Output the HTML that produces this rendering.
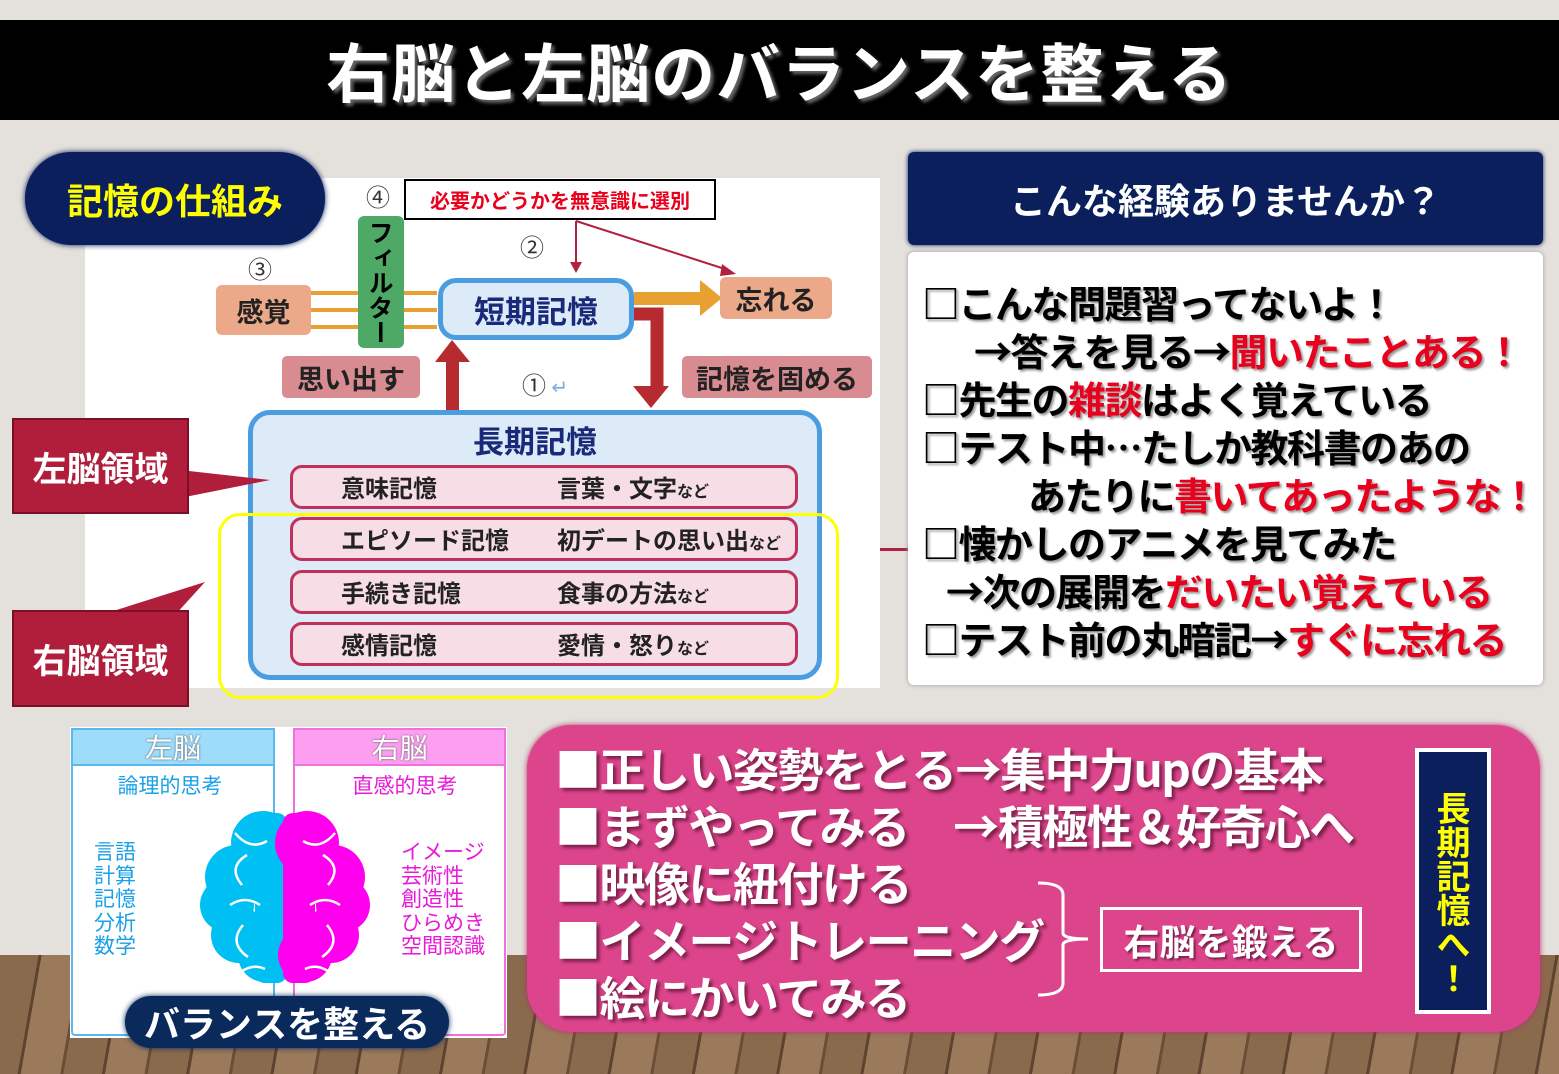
<!DOCTYPE html>
<html><head><meta charset="utf-8"><style>
*{margin:0;padding:0;box-sizing:border-box}
body{width:1559px;height:1074px;position:relative;overflow:hidden;background:#e4e1dc;font-family:"Noto Sans CJK JP","Liberation Sans",sans-serif;font-weight:bold}
.a{position:absolute}
.floor{left:0;top:955px;width:1559px;height:119px;background:repeating-linear-gradient(100deg,#8a6a4c 0 38px,#5e4330 38px 41px,#9a7a5a 41px 80px,#6b4e36 80px 83px)}
.title{left:0;top:20px;width:1559px;height:100px;background:#000;color:#fff;font-size:64px;text-align:center;line-height:100px;text-shadow:3px 3px 3px #666;letter-spacing:1px}
.c{display:flex;align-items:center;justify-content:center;white-space:nowrap}
.row{position:absolute;left:290px;width:508px;height:44px;background:#f6dde6;border:3px solid #c0305a;border-radius:12px;font-size:24px;color:#222}
.row span{position:absolute;top:3px;line-height:32px}
.rt{font-size:38px;line-height:48px;color:#000;text-shadow:2px 2px 2px #999;white-space:nowrap;letter-spacing:-1.5px}
.r{color:#e8001c}
.pk{font-size:46px;color:#fff;text-shadow:3px 3px 3px #7a2048;white-space:nowrap;line-height:57px;letter-spacing:-1.5px}
</style></head><body>
<div class="a floor"></div>
<div class="a title">右脳と左脳のバランスを整える</div>

<div class="a" style="left:85px;top:178px;width:795px;height:510px;background:#fff"></div>
<div class="a c" style="left:25px;top:152px;width:300px;height:93px;background:#0a1f5c;border-radius:46px;color:#ffff00;font-size:36px;box-shadow:0 0 6px #0a1f5c">記憶の仕組み</div>

<div class="a" style="left:366px;top:180px;font-size:24px;font-weight:normal;color:#333;line-height:32px">④</div>
<div class="a" style="left:520px;top:230px;font-size:24px;font-weight:normal;color:#333;line-height:32px">②</div>
<div class="a" style="left:248px;top:252px;font-size:24px;font-weight:normal;color:#333;line-height:32px">③</div>
<div class="a" style="left:522px;top:368px;font-size:24px;font-weight:normal;color:#333;line-height:32px">① <span style="color:#7aaee0;font-size:20px">↵</span></div>
<div class="a c" style="left:404px;top:179px;width:312px;height:41px;border:2px solid #000;background:#fff;color:#e8001c;font-size:20px">必要かどうかを無意識に選別</div>

<div class="a c" style="left:216px;top:285px;width:95px;height:50px;background:#eba98a;border-radius:6px;font-size:27px;color:#222">感覚</div>
<div class="a" style="left:311px;top:291px;width:126px;height:4px;background:#e8a030"></div>
<div class="a" style="left:311px;top:308px;width:126px;height:4px;background:#e8a030"></div>
<div class="a" style="left:311px;top:325px;width:126px;height:4px;background:#e8a030"></div>
<div class="a" style="left:358px;top:216px;width:46px;height:132px;background:#4ea866;border-radius:6px;color:#000;font-size:25px;writing-mode:vertical-rl;text-align:center;line-height:46px">フィルター</div>
<div class="a c" style="left:438px;top:278px;width:196px;height:62px;background:#dcebf7;border:5px solid #4a9de0;border-radius:18px;color:#1a2a7a;font-size:31px">短期記憶</div>
<div class="a" style="left:634px;top:292px;width:70px;height:13px;background:#e8a030"></div>
<div class="a" style="left:700px;top:280px;width:0;height:0;border-left:22px solid #e8a030;border-top:18px solid transparent;border-bottom:18px solid transparent"></div>
<div class="a c" style="left:720px;top:277px;width:112px;height:42px;background:#eba98a;border-radius:6px;font-size:27px;color:#222">忘れる</div>
<svg class="a" style="left:0;top:0" width="900" height="420">
<line x1="576" y1="221" x2="576" y2="264" stroke="#b02040" stroke-width="2"/><polygon points="570,262 582,262 576,273" fill="#b02040"/>
<line x1="576" y1="221" x2="728" y2="270" stroke="#b02040" stroke-width="2"/><polygon points="722,264 736,274 720,276" fill="#b02040"/>
<rect x="446" y="360" width="13" height="50" fill="#b52b30"/><polygon points="435,362 470,362 452,340" fill="#b52b30"/>
<path d="M634 314 H657 V388" stroke="#b52b30" stroke-width="13" fill="none"/><polygon points="633,386 669,386 651,408" fill="#b52b30"/>
</svg>
<div class="a c" style="left:282px;top:356px;width:138px;height:42px;background:#d88c92;border-radius:5px;font-size:27px;color:#222">思い出す</div>
<div class="a c" style="left:682px;top:356px;width:190px;height:42px;background:#d88c92;border-radius:5px;font-size:27px;color:#222">記憶を固める</div>

<div class="a" style="left:248px;top:410px;width:574px;height:270px;background:#dcebf7;border:5px solid #4a9de0;border-radius:22px"></div>
<div class="a" style="left:248px;top:418px;width:574px;text-align:center;font-size:31px;color:#1a2a7a;line-height:44px">長期記憶</div>
<div class="row" style="top:465px"><span style="left:48px">意味記憶</span><span style="left:264px">言葉・文字<small style="font-size:16px">など</small></span></div>
<div class="row" style="top:517px"><span style="left:48px">エピソード記憶</span><span style="left:264px">初デートの思い出<small style="font-size:16px">など</small></span></div>
<div class="row" style="top:570px"><span style="left:48px">手続き記憶</span><span style="left:264px">食事の方法<small style="font-size:16px">など</small></span></div>
<div class="row" style="top:622px"><span style="left:48px">感情記憶</span><span style="left:264px">愛情・怒り<small style="font-size:16px">など</small></span></div>
<div class="a" style="left:218px;top:513px;width:621px;height:186px;border:3px solid #ffff00;border-radius:22px"></div>

<svg class="a" style="left:0;top:400px" width="300" height="320">
<polygon points="180,70 270,80 180,98" fill="#b01e3c"/>
<polygon points="110,212 205,182 175,215" fill="#b01e3c"/>
</svg>
<div class="a c" style="left:12px;top:418px;width:177px;height:96px;background:#b01e3c;border:2px solid #7a1028;color:#fff;font-size:34px">左脳領域</div>
<div class="a c" style="left:12px;top:610px;width:177px;height:97px;background:#b01e3c;border:2px solid #7a1028;color:#fff;font-size:34px">右脳領域</div>
<div class="a" style="left:880px;top:548px;width:28px;height:3px;background:#b02040"></div>

<div class="a c" style="left:908px;top:152px;width:635px;height:93px;background:#0a1f5c;color:#fff;font-size:36px;box-shadow:0 0 5px #0a1f5c;border-radius:6px">こんな経験ありませんか？</div>
<div class="a" style="left:908px;top:252px;width:635px;height:433px;background:#fff;border-radius:6px;box-shadow:0 0 4px #999"></div>
<div class="a rt" style="left:922px;top:278px">□こんな問題習ってないよ！<br><span style="padding-left:52px">→答えを見る→<span class="r">聞いたことある！</span></span><br>□先生の<span class="r">雑談</span>はよく覚えている<br>□テスト中…たしか教科書のあの<br><span style="padding-left:106px">あたりに<span class="r">書いてあったような！</span></span><br>□懐かしのアニメを見てみた<br><span style="padding-left:24px">→次の展開を<span class="r">だいたい覚えている</span></span><br>□テスト前の丸暗記→<span class="r">すぐに忘れる</span></div>

<div class="a" style="left:70px;top:727px;width:437px;height:311px;background:#fff"></div>
<div class="a" style="left:71px;top:728px;width:204px;height:308px;border:2px solid #5cb8ec;border-radius:4px"></div>
<div class="a c" style="left:71px;top:728px;width:204px;height:38px;background:#9ddcfb;border:2px solid #5cb8ec;color:#fff;font-size:28px;font-weight:normal;text-shadow:0 0 2px #555">左脳</div>
<div class="a" style="left:293px;top:728px;width:213px;height:308px;border:2px solid #f070e0;border-radius:4px"></div>
<div class="a c" style="left:293px;top:728px;width:213px;height:38px;background:#fd9ff0;border:2px solid #f070e0;color:#fff;font-size:28px;font-weight:normal;text-shadow:0 0 2px #555">右脳</div>
<div class="a" style="left:70px;top:770px;width:200px;text-align:center;color:#1aa0e8;font-size:21px;font-weight:normal;line-height:30px">論理的思考</div>
<div class="a" style="left:300px;top:770px;width:210px;text-align:center;color:#e81ad8;font-size:21px;font-weight:normal;line-height:30px">直感的思考</div>
<div class="a" style="left:94px;top:840px;color:#1aa0e8;font-size:21px;line-height:23.5px;font-weight:normal">言語<br>計算<br>記憶<br>分析<br>数学</div>
<div class="a" style="left:401px;top:840px;color:#e81ad8;font-size:21px;line-height:23.5px;font-weight:normal">イメージ<br>芸術性<br>創造性<br>ひらめき<br>空間認識</div>
<svg class="a" style="left:185px;top:805px" width="200" height="185">
<g fill="#00bff2"><circle cx="78" cy="38" r="32"/><circle cx="52" cy="72" r="32"/><circle cx="42" cy="100" r="27"/><circle cx="54" cy="130" r="28"/><circle cx="80" cy="150" r="27"/><rect x="70" y="8" width="32" height="170" rx="10"/></g>
<g fill="#ff00ee"><circle cx="122" cy="38" r="32"/><circle cx="148" cy="72" r="32"/><circle cx="158" cy="100" r="27"/><circle cx="146" cy="130" r="28"/><circle cx="120" cy="150" r="27"/><rect x="98" y="8" width="32" height="170" rx="10"/></g>
<g stroke="#fff" stroke-width="2.5" fill="none"><path d="M50 28 q15 18 32 8"/><path d="M62 50 q-20 12 -5 30"/><path d="M45 100 q15 -10 30 0"/><path d="M58 120 q-15 18 5 32"/><path d="M50 172 q15 -15 30 -8"/>
<path d="M150 28 q-15 18 -32 8"/><path d="M138 50 q20 12 5 30"/><path d="M155 100 q-15 -10 -30 0"/><path d="M142 120 q15 18 -5 32"/><path d="M150 172 q-15 -15 -30 -8"/></g>
</svg>
<div class="a c" style="left:125px;top:996px;width:324px;height:52px;background:#0a2a5c;border-radius:26px;color:#fff;font-size:36px;box-shadow:0 0 6px #0a2a5c">バランスを整える</div>

<div class="a" style="left:527px;top:725px;width:1013px;height:307px;background:#dc458c;border-radius:44px;box-shadow:0 0 6px #b03070"></div>
<div class="a pk" style="left:555px;top:740px">■正しい姿勢をとる→集中力upの基本<br>■まずやってみる　→積極性＆好奇心へ<br>■映像に紐付ける<br>■イメージトレーニング<br>■絵にかいてみる</div>
<svg class="a" style="left:1030px;top:875px" width="80" height="130"><path d="M8 8 q25 0 25 12 V58 q0 6 25 6 q-25 0 -25 6 V108 q0 12 -25 12" stroke="#fff" stroke-width="3" fill="none"/></svg>
<div class="a c" style="left:1100px;top:907px;width:262px;height:65px;border:3px solid #fff;color:#fff;font-size:36px;text-shadow:2px 2px 2px #7a2048">右脳を鍛える</div>
<div class="a" style="left:1415px;top:748px;width:76px;height:266px;background:#0a1f5c;border:4px solid #fff;color:#ffff00;font-size:34px;writing-mode:vertical-rl;text-align:center;line-height:68px;padding-top:24px">長期記憶へ！</div>
</body></html>
